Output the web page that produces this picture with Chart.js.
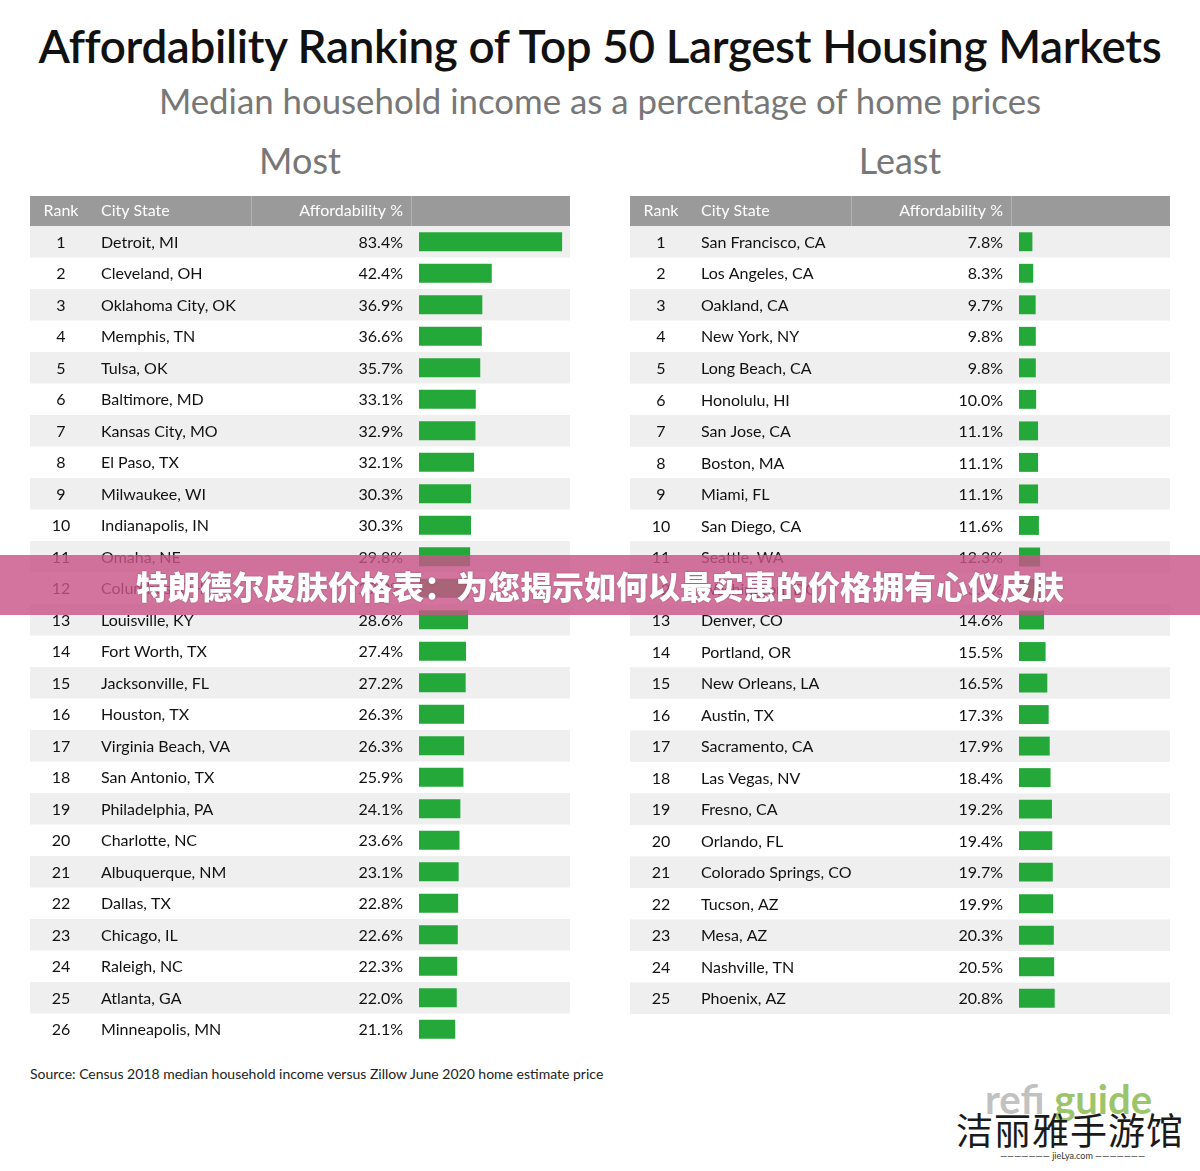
<!DOCTYPE html>
<html>
<head>
<meta charset="utf-8">
<script src="https://cdn.jsdelivr.net/npm/chart.js@4"></script>
<style>
  body { margin: 0; background: #fff; font-family: Lato, "Noto Sans", sans-serif; }
  #page { position: relative; width: 1200px; height: 1171px; overflow: hidden; }
  .txt { position: absolute; white-space: nowrap; }
  #title { left: 0; width: 1200px; top: 18px; text-align: center; font-size: 45.8px; font-weight: 600; color: #111; letter-spacing: -0.35px; }
  #subtitle { left: 0; width: 1200px; top: 80px; text-align: center; font-size: 34.8px; color: #777; }
  .side { top: 138px; width: 540px; text-align: center; font-size: 36px; color: #777; }
  #source { left: 30px; top: 1065px; font-size: 14px; color: #222; }
  canvas { position: absolute; }
  #banner { position: absolute; left: 0; top: 555px; width: 1200px; height: 60px; background: rgba(200, 85, 135, 0.82);
            color: #fff; font-family: "Noto Sans CJK SC", sans-serif; font-weight: 900; font-size: 32px; line-height: 60px; text-align: center; text-shadow: 0 0 2px rgba(0,0,0,0.3); }
  #logo { left: 956px; top: 1102px; font-family: "Noto Sans CJK SC", sans-serif; font-size: 37px; color: #1a1a1a; letter-spacing: 1px; }
  #refi { left: 985px; top: 1075px; font-size: 40px; font-weight: 700; color: rgba(140,140,140,0.55); }
  #refi span { color: rgba(110,170,40,0.7); }
  #url { left: 960px; top: 1150px; width: 225px; text-align: center; font-size: 9px; color: #333; }
</style>
</head>
<body>
<div id="page">
  <div class="txt" id="title">Affordability Ranking of Top 50 Largest Housing Markets</div>
  <div class="txt" id="subtitle">Median household income as a percentage of home prices</div>
  <div class="txt side" style="left:30px">Most</div>
  <div class="txt side" style="left:630px">Least</div>
  <canvas id="most" width="540" height="849" style="left:30px; top:196px"></canvas>
  <canvas id="least" width="540" height="818" style="left:630px; top:196px"></canvas>
  <div class="txt" id="source">Source: Census 2018 median household income versus Zillow June 2020 home estimate price</div>
  <div class="txt" id="refi">refi <span>guide</span></div>
  <div class="txt" id="logo">洁丽雅手游馆</div>
  <div class="txt" id="url">——————— jieLya.com ———————</div>
  <div id="banner">特朗德尔皮肤价格表：为您揭示如何以最实惠的价格拥有心仪皮肤</div>
</div>
<script>
var headers = ["Rank", "City State", "Affordability %"];

var mostCities = ["Detroit, MI", "Cleveland, OH", "Oklahoma City, OK", "Memphis, TN", "Tulsa, OK",
  "Baltimore, MD", "Kansas City, MO", "El Paso, TX", "Milwaukee, WI", "Indianapolis, IN",
  "Omaha, NE", "Columbus, OH", "Louisville, KY", "Fort Worth, TX", "Jacksonville, FL",
  "Houston, TX", "Virginia Beach, VA", "San Antonio, TX", "Philadelphia, PA", "Charlotte, NC",
  "Albuquerque, NM", "Dallas, TX", "Chicago, IL", "Raleigh, NC", "Atlanta, GA", "Minneapolis, MN"];
var mostPct = [83.4, 42.4, 36.9, 36.6, 35.7, 33.1, 32.9, 32.1, 30.3, 30.3,
  29.8, 29.0, 28.6, 27.4, 27.2, 26.3, 26.3, 25.9, 24.1, 23.6,
  23.1, 22.8, 22.6, 22.3, 22.0, 21.1];

var leastCities = ["San Francisco, CA", "Los Angeles, CA", "Oakland, CA", "New York, NY", "Long Beach, CA",
  "Honolulu, HI", "San Jose, CA", "Boston, MA", "Miami, FL", "San Diego, CA",
  "Seattle, WA", "Washington, DC", "Denver, CO", "Portland, OR", "New Orleans, LA",
  "Austin, TX", "Sacramento, CA", "Las Vegas, NV", "Fresno, CA", "Orlando, FL",
  "Colorado Springs, CO", "Tucson, AZ", "Mesa, AZ", "Nashville, TN", "Phoenix, AZ"];
var leastPct = [7.8, 8.3, 9.7, 9.8, 9.8, 10.0, 11.1, 11.1, 11.1, 11.6,
  12.3, 13.4, 14.6, 15.5, 16.5, 17.3, 17.9, 18.4, 19.2, 19.4,
  19.7, 19.9, 20.3, 20.5, 20.8];

// draws the table around the bars: header, stripes, rank / city / percent columns
var tablePlugin = {
  id: 'table',
  beforeDatasetsDraw: function (chart) {
    var ctx = chart.ctx;
    var y = chart.scales.y;
    var cities = chart.config.options.plugins.table.cities;
    var pct = chart.data.datasets[0].data;
    var w = chart.width;
    var rowH = y.getPixelForValue(1) - y.getPixelForValue(0);
    ctx.save();
    // header
    ctx.fillStyle = '#9a9a9a';
    ctx.fillRect(0, 0, w, 30);
    ctx.fillStyle = '#b3b3b3';
    ctx.fillRect(221, 0, 1, 30);
    ctx.fillRect(381, 0, 1, 30);
    ctx.fillStyle = '#fff';
    ctx.font = '16px Lato';
    ctx.textBaseline = 'middle';
    ctx.textAlign = 'center';
    ctx.fillText(headers[0], 31, 15);
    ctx.textAlign = 'left';
    ctx.fillText(headers[1], 71, 15);
    ctx.textAlign = 'right';
    ctx.fillText(headers[2], 373, 15);
    // rows
    for (var i = 0; i < pct.length; i++) {
      var cy = y.getPixelForValue(i);
      if (i % 2 === 0) {
        ctx.fillStyle = '#efefef';
        ctx.fillRect(0, cy - rowH / 2, w, rowH);
      }
      ctx.fillStyle = '#111';
      ctx.font = '16px Lato';
      ctx.textAlign = 'center';
      ctx.fillText(String(i + 1), 31, cy + 1);
      ctx.textAlign = 'left';
      ctx.fillText(cities[i], 71, cy + 1);
      ctx.textAlign = 'right';
      ctx.fillText(pct[i].toFixed(1) + '%', 373, cy + 1);
    }
    ctx.restore();
  }
};

function makeTable(id, cities, pct) {
  return new Chart(document.getElementById(id), {
    type: 'bar',
    data: {
      labels: cities,
      datasets: [{
        data: pct,
        backgroundColor: '#24a83a',
        barPercentage: 0.6,
        categoryPercentage: 1.0
      }]
    },
    options: {
      indexAxis: 'y',
      responsive: false,
      animation: false,
      layout: { padding: { left: 389, top: 30, right: 0, bottom: 0 } },
      scales: {
        x: { display: false, min: 0, max: 88 },
        y: { display: false }
      },
      plugins: {
        legend: { display: false },
        tooltip: { enabled: false },
        table: { cities: cities }
      }
    },
    plugins: [tablePlugin]
  });
}

makeTable('most', mostCities, mostPct);
makeTable('least', leastCities, leastPct);
</script>
</body>
</html>
